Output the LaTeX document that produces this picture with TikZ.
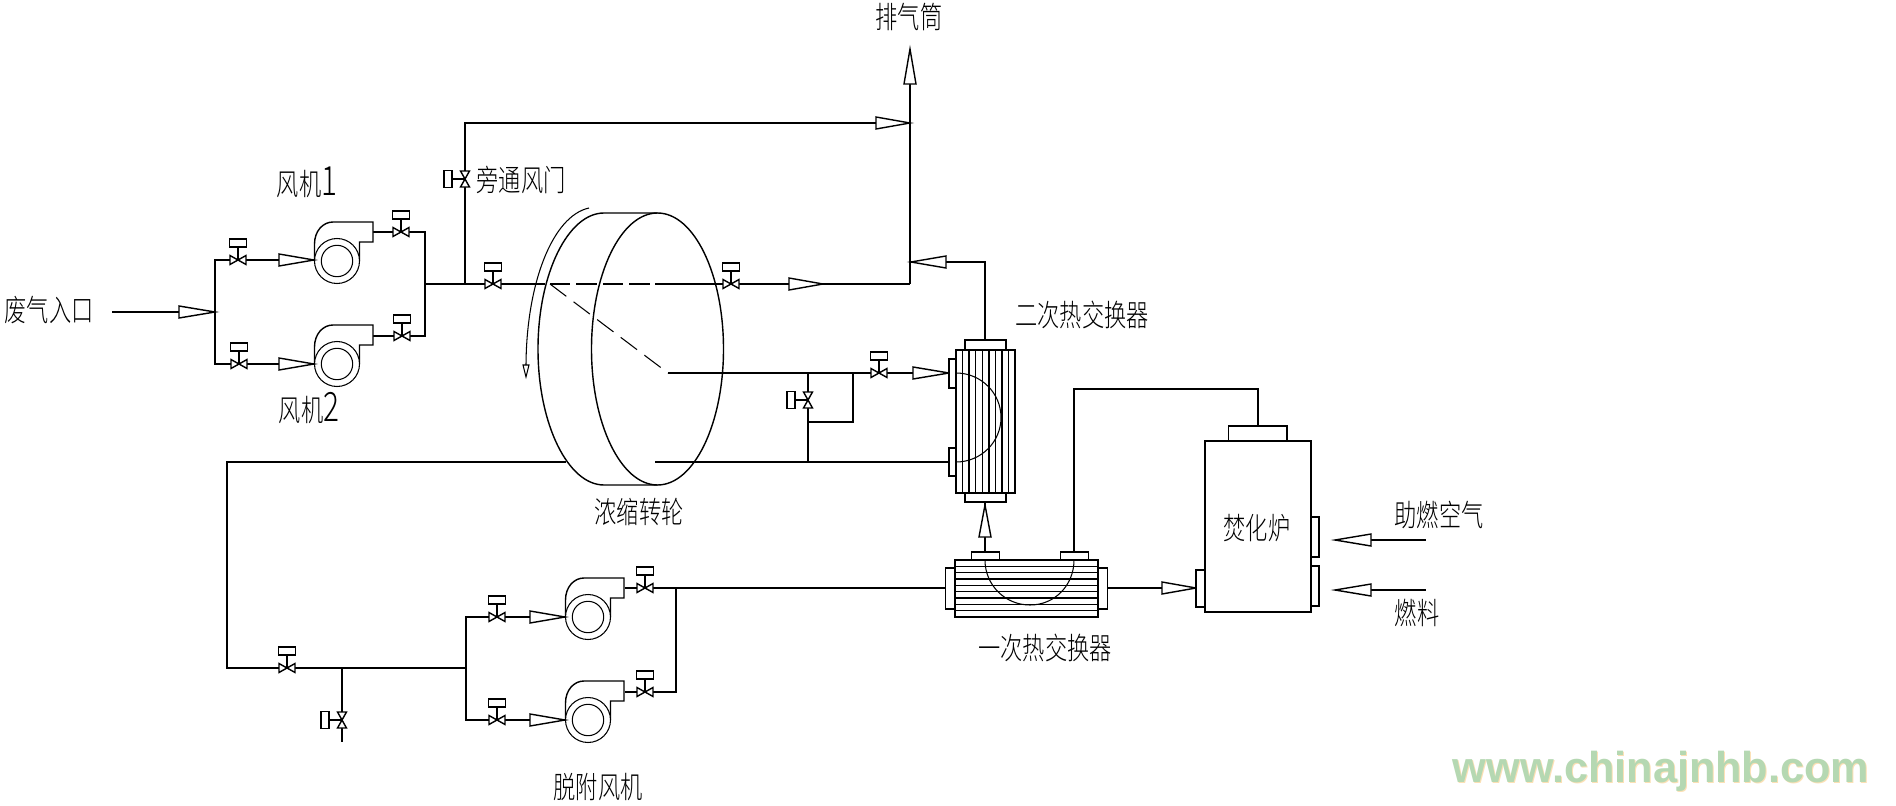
\documentclass[tikz,border=0pt]{standalone}
\usepackage{fontspec}
\newfontfamily\cjk{Noto Sans CJK SC Light}
\newfontfamily\markfont{Liberation Sans}
\usetikzlibrary{calc}
\definecolor{markgreen}{HTML}{B5D8B2}
\definecolor{markshade}{HTML}{FCE0B4}
\tikzset{
  pipe/.style={black,line width=.4pt},
  thinline/.style={black,line width=.3pt},
  part/.style={pipe,fill=white},
  cjklabel/.style={font=\cjk\fontsize{8.6}{10}\selectfont,transform shape,xscale=.735,inner sep=0pt,black},
  marktext/.style={font=\markfont\bfseries\fontsize{12.3}{14}\selectfont,inner sep=0pt,anchor=base west},
}
\newcommand{\bigdigit}[1]{{\fontsize{11.5}{12}\selectfont #1}}

\begin{document}
\begin{tikzpicture}[x=.01cm,y=-.01cm,line cap=butt,line join=miter]
  \path[use as bounding box] (0,0) rectangle (1896,806);
  \fill[white] (0,0) rectangle (1896,806);

  % Pipe runs of the adsorption side, in pixel coordinates of the sheet.
  \draw[pipe] (112,312) -- (215,312);
  \draw[pipe] (314,260) -- (215,260) -- (215,364) -- (314,364);
  \draw[pipe] (373,232) -- (425,232) -- (425,336) -- (373,336);
  \draw[pipe] (425,284) -- (545,284);
  \draw[pipe] (465,284) -- (465,123) -- (910,123);
  \draw[pipe,dash pattern=on 5.8pt off 1.7pt] (550,284) -- (655,284);
  \draw[pipe] (655,284) -- (910,284);
  \draw[pipe] (910,84) -- (910,284);
  \draw[pipe] (910,262) -- (985,262) -- (985,340);

  % Concentrated stream through the second exchanger and back.
  \draw[thinline,dash pattern=on 5.8pt off 2.6pt] (550,284) -- (668,373);
  \draw[pipe] (668,373) -- (949,373);
  \draw[pipe] (808,373) -- (808,462);
  \draw[pipe] (853,373) -- (853,422) -- (808,422);
  \draw[pipe] (655,462) -- (949,462);
  \draw[pipe] (566,462) -- (227,462) -- (227,668) -- (466,668);
  \draw[pipe] (342,668) -- (342,742);
  \draw[pipe] (565,617) -- (466,617) -- (466,720) -- (565,720);
  \draw[pipe] (625,588) -- (945.5,588);
  \draw[pipe] (625,692) -- (676,692) -- (676,588);

  % Furnace connections.
  \draw[pipe] (985,502) -- (985,552);
  \draw[pipe] (1074,552) -- (1074,389) -- (1258,389) -- (1258,426);
  \draw[pipe] (1107.5,588) -- (1196,588);
  \draw[pipe] (1371,540) -- (1426,540);
  \draw[pipe] (1371,590) -- (1426,590);

  % Rotor wheel, front face and the rear half behind it.
  \draw[pipe] (657.5,349) ellipse (66 and 136);
  \draw[pipe] (657.5,213) -- (604,213) .. controls (568,213) and (538,274) .. (538,349)
    .. controls (538,424) and (568,485) .. (604,485) -- (657.5,485);
  \draw[thinline] (589,208) .. controls (552,216) and (526,285) .. (526,367);
  \draw[thinline,fill=white] (523,365) -- (529,365) -- (526,377) -- cycle;

  % Fans share one casing outline.
  \foreach \x/\y in {337/261,337/364,588/617,588/720}{
    \draw[part] (\x-22.5,\y) -- (\x-22.5,\y-17) .. controls (\x-22.5,\y-30) and (\x-14,\y-39) .. (\x-4,\y-39)
      -- (\x+36,\y-39) -- (\x+36,\y-19) -- (\x+22.5,\y-19) -- (\x+22.5,\y);
    \draw[thinline,fill=white] (\x,\y) circle (22.5);
    \draw[thinline] (\x,\y) circle (15.7);
  }

  % Valves on horizontal runs carry the actuator above, on vertical runs to the left.
  \foreach \x/\y in {238/260,239/364,401/232,402/336,493/284,731/284,879/373,287/668,497/617,497/720,645/588,645/692}{
    \draw[pipe] (\x,\y) -- (\x,\y-13);
    \draw[part] (\x-8.5,\y-21) rectangle (\x+8.5,\y-13);
    \draw[part] (\x-8,\y-4.5) -- (\x+8,\y+4.5) -- (\x+8,\y-4.5) -- (\x-8,\y+4.5) -- cycle;
  }
  \foreach \x/\y in {465/179,808/400,342/720}{
    \draw[pipe] (\x,\y) -- (\x-13,\y);
    \draw[part] (\x-21,\y-8.5) rectangle (\x-13,\y+8.5);
    \draw[part] (\x-4.5,\y-8) -- (\x+4.5,\y+8) -- (\x-4.5,\y+8) -- (\x+4.5,\y-8) -- cycle;
  }

  % Flow cones: base, tip and height of the run.
  \foreach \xb/\xt/\y in {179/215/312,279/314/260,279/314/364,876/910/123,789/823/284,946/911/262,
    913/949/373,530/565/617,530/565/720,1162/1196/588,1371/1335/540,1371/1335/590}{
    \draw[part] (\xb,\y-6) -- (\xt,\y) -- (\xb,\y+6) -- cycle;
  }
  \foreach \x/\yb/\yt in {910/84/49,985/537/505}{
    \draw[part] (\x-6,\yb) -- (\x,\yt) -- (\x+6,\yb) -- cycle;
  }

  % Second exchanger, upright.
  \draw[part] (965,340) rectangle (1006,350);
  \draw[part] (965,493) rectangle (1006,502);
  \draw[part] (949,359) rectangle (956,388);
  \draw[part] (949,448) rectangle (956,476);
  \draw[part] (956,350) rectangle (1015,493);
  \foreach \i in {1,...,8}{
    \draw[pipe] (956+6.56*\i,350) -- (956+6.56*\i,493);
  }
  \draw[thinline] (956,373) .. controls (981,373) and (1001,393) .. (1001,417.5)
    .. controls (1001,442) and (981,462) .. (956,462);

  % First exchanger, lying down.
  \draw[part] (971.5,552) rectangle (999.5,560);
  \draw[part] (1060.5,552) rectangle (1088.5,560);
  \draw[part] (945.5,568) rectangle (955,609);
  \draw[part] (1098,568) rectangle (1107.5,609);
  \draw[part] (955,560) rectangle (1098,617);
  \foreach \i in {1,...,8}{
    \draw[pipe] (955,560+6.33*\i) -- (1098,560+6.33*\i);
  }
  \draw[thinline] (985,560) .. controls (985,585) and (1005,605) .. (1030,605)
    .. controls (1055,605) and (1074,585) .. (1074,560);

  % Furnace body with its nozzles.
  \draw[part] (1228.5,426) rectangle (1287,441);
  \draw[part] (1196,570) rectangle (1205,607);
  \draw[part] (1311,517) rectangle (1319,557);
  \draw[part] (1311,566) rectangle (1319,606);
  \draw[part] (1205,441) rectangle (1311,612);

  % Labels.
  \node[cjklabel] (inlet) at (49,310) {废气入口};
  \node[cjklabel] (fanone) at (307,182) {风机\bigdigit{1}};
  \node[cjklabel] (fantwo) at (309,408) {风机\bigdigit{2}};
  \node[cjklabel] (bypass) at (521,180) {旁通风门};
  \node[cjklabel] (stack) at (909,17) {排气筒};
  \node[cjklabel] (rotor) at (639,512) {浓缩转轮};
  \node[cjklabel] (hxtwo) at (1082,315) {二次热交换器};
  \node[cjklabel] (hxone) at (1045,648) {一次热交换器};
  \node[cjklabel] (furnace) at (1257,528) {焚化炉};
  \node[cjklabel] (airin) at (1439,515) {助燃空气};
  \node[cjklabel] (fuelin) at (1417,613) {燃料};
  \node[cjklabel] (desorb) at (598,787) {脱附风机};

  % Site mark, shade first.
  \node[marktext,markshade] (markback) at (1453,783) {www.chinajnhb.com};
  \node[marktext,markgreen] (markfront) at (1452,782) {www.chinajnhb.com};
\end{tikzpicture}
\end{document}
